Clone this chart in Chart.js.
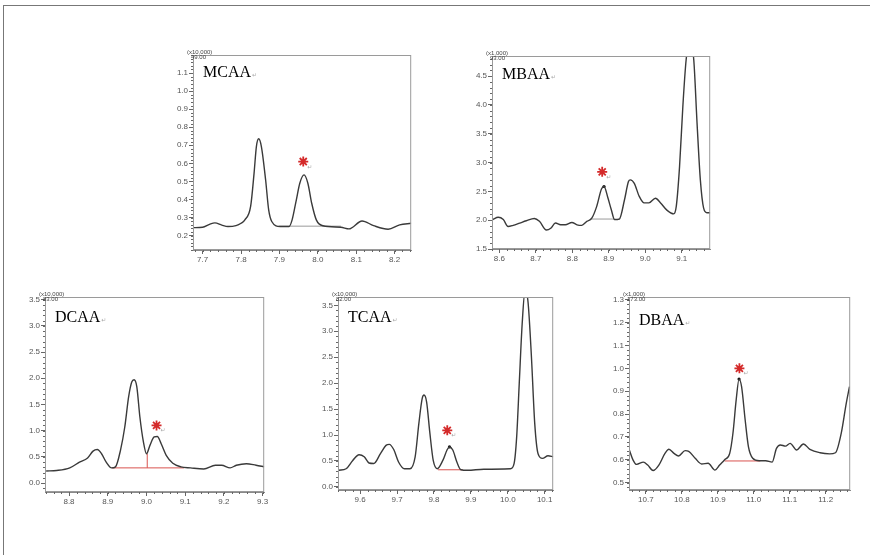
<!DOCTYPE html>
<html>
<head>
<meta charset="utf-8">
<script src="https://cdn.jsdelivr.net/npm/chart.js@4"></script>
<style>
body { margin: 0; background: #fff; }
#page { position: relative; width: 870px; height: 555px; overflow: hidden; }
#frame { position: absolute; left: 3px; top: 5px; width: 880px; height: 560px; border-top: 1px solid #777; border-left: 1px solid #777; }
.panel { position: absolute; }
</style>
</head>
<body>
<div id="page">
  <div id="frame"></div>
  <div class="panel" id="p1"><canvas id="c1"></canvas></div>
  <div class="panel" id="p2"><canvas id="c2"></canvas></div>
  <div class="panel" id="p3"><canvas id="c3"></canvas></div>
  <div class="panel" id="p4"><canvas id="c4"></canvas></div>
  <div class="panel" id="p5"><canvas id="c5"></canvas></div>
</div>
<script>
// MCAA
var mcaaTime = [7.676, 7.70, 7.718, 7.732, 7.75, 7.766, 7.787, 7.80, 7.81, 7.825, 7.834, 7.84, 7.846, 7.853, 7.864, 7.872, 7.88, 7.902, 7.925, 7.933, 7.944, 7.953, 7.964, 7.974, 7.984, 7.996, 8.013, 8.06, 8.081, 8.115, 8.145, 8.183, 8.213, 8.243];
var mcaaInt = [0.244, 0.246, 0.262, 0.27, 0.258, 0.25, 0.255, 0.268, 0.287, 0.361, 0.546, 0.693, 0.736, 0.693, 0.509, 0.342, 0.278, 0.25, 0.25, 0.287, 0.398, 0.49, 0.536, 0.49, 0.379, 0.287, 0.254, 0.246, 0.237, 0.281, 0.255, 0.235, 0.259, 0.268];
var mcaaXTicks = [7.7, 7.8, 7.9, 8.0, 8.1, 8.2];
var mcaaYTicks = [0.2, 0.3, 0.4, 0.5, 0.6, 0.7, 0.8, 0.9, 1.0, 1.1];
var mcaaBase = [[7.898, 0.252], [8.06, 0.252]];
var mcaaStar = [7.962, 0.61];

// MBAA
var mbaaTime = [8.582, 8.597, 8.611, 8.624, 8.638, 8.656, 8.674, 8.696, 8.71, 8.729, 8.741, 8.754, 8.768, 8.781, 8.799, 8.813, 8.826, 8.84, 8.853, 8.867, 8.88, 8.887, 8.898, 8.907, 8.916, 8.929, 8.943, 8.954, 8.959, 8.97, 8.983, 8.997, 9.01, 9.028, 9.042, 9.06, 9.078, 9.085, 9.094, 9.103, 9.112, 9.122, 9.133, 9.142, 9.151, 9.16, 9.169, 9.178];
var mbaaInt = [2.01, 2.05, 2.01, 1.89, 1.91, 1.95, 1.99, 2.03, 1.98, 1.83, 1.86, 1.95, 1.92, 1.92, 1.96, 1.92, 1.91, 1.98, 2.03, 2.24, 2.54, 2.585, 2.38, 2.18, 2.01, 2.02, 2.35, 2.67, 2.70, 2.64, 2.42, 2.30, 2.30, 2.38, 2.30, 2.17, 2.11, 2.24, 2.93, 3.97, 4.78, 5.15, 4.78, 3.68, 2.70, 2.21, 2.13, 2.13];
var mbaaXTicks = [8.6, 8.7, 8.8, 8.9, 9.0, 9.1];
var mbaaYTicks = [1.5, 2.0, 2.5, 3.0, 3.5, 4.0, 4.5];
var mbaaBase = [[8.849, 2.02], [8.929, 2.02]];
var mbaaApex = [8.887, 2.585];
var mbaaStar = [8.882, 2.84];

// DCAA
var dcaaTime = [8.741, 8.768, 8.802, 8.827, 8.848, 8.862, 8.873, 8.884, 8.896, 8.91, 8.92, 8.933, 8.944, 8.954, 8.962, 8.968, 8.975, 8.983, 8.992, 9.0, 9.009, 9.02, 9.028, 9.038, 9.051, 9.068, 9.089, 9.114, 9.148, 9.178, 9.194, 9.216, 9.232, 9.258, 9.283, 9.304];
var dcaaInt = [0.23, 0.24, 0.29, 0.40, 0.48, 0.61, 0.64, 0.56, 0.40, 0.29, 0.31, 0.63, 1.07, 1.65, 1.93, 1.97, 1.84, 1.26, 0.79, 0.56, 0.72, 0.88, 0.89, 0.75, 0.53, 0.38, 0.31, 0.29, 0.27, 0.34, 0.34, 0.29, 0.34, 0.37, 0.34, 0.31];
var dcaaXTicks = [8.8, 8.9, 9.0, 9.1, 9.2, 9.3];
var dcaaYTicks = [0.0, 0.5, 1.0, 1.5, 2.0, 2.5, 3.0, 3.5];
var dcaaBase = [[8.911, 0.29], [9.097, 0.29]];
var dcaaDrop = [[9.002, 0.29], [9.002, 0.56]];
var dcaaStar = [9.026, 1.10];

// TCAA
var tcaaTime = [9.542, 9.562, 9.58, 9.597, 9.611, 9.624, 9.637, 9.655, 9.67, 9.679, 9.691, 9.704, 9.72, 9.735, 9.749, 9.759, 9.768, 9.773, 9.78, 9.789, 9.798, 9.809, 9.824, 9.836, 9.842, 9.851, 9.862, 9.873, 9.891, 9.935, 10.007, 10.017, 10.024, 10.031, 10.039, 10.047, 10.055, 10.064, 10.073, 10.082, 10.094, 10.109, 10.123];
var tcaaInt = [0.32, 0.35, 0.51, 0.62, 0.58, 0.46, 0.45, 0.64, 0.80, 0.82, 0.72, 0.48, 0.35, 0.35, 0.58, 1.22, 1.70, 1.77, 1.64, 1.03, 0.51, 0.35, 0.51, 0.72, 0.77, 0.71, 0.48, 0.33, 0.32, 0.34, 0.35, 0.45, 0.96, 1.99, 3.15, 3.80, 3.55, 2.51, 1.22, 0.64, 0.55, 0.60, 0.58];
var tcaaXTicks = [9.6, 9.7, 9.8, 9.9, 10.0, 10.1];
var tcaaYTicks = [0.0, 0.5, 1.0, 1.5, 2.0, 2.5, 3.0, 3.5];
var tcaaBase = [[9.811, 0.33], [9.878, 0.33]];
var tcaaApex = [9.842, 0.77];
var tcaaStar = [9.836, 1.09];

// DBAA
var dbaaTime = [10.654, 10.664, 10.674, 10.693, 10.705, 10.72, 10.736, 10.753, 10.764, 10.778, 10.791, 10.809, 10.819, 10.837, 10.855, 10.873, 10.892, 10.905, 10.919, 10.933, 10.942, 10.951, 10.959, 10.966, 10.976, 10.985, 10.997, 11.015, 11.033, 11.051, 11.063, 11.074, 11.088, 11.101, 11.119, 11.138, 11.156, 11.184, 11.211, 11.227, 11.243, 11.257, 11.266];
var dbaaInt = [0.643, 0.60, 0.58, 0.59, 0.577, 0.553, 0.577, 0.628, 0.646, 0.628, 0.617, 0.64, 0.637, 0.607, 0.582, 0.585, 0.555, 0.577, 0.60, 0.628, 0.716, 0.862, 0.953, 0.92, 0.774, 0.658, 0.607, 0.596, 0.596, 0.59, 0.65, 0.665, 0.66, 0.672, 0.643, 0.669, 0.646, 0.631, 0.626, 0.631, 0.716, 0.847, 0.92];
var dbaaXTicks = [10.7, 10.8, 10.9, 11.0, 11.1, 11.2];
var dbaaYTicks = [0.5, 0.6, 0.7, 0.8, 0.9, 1.0, 1.1, 1.2, 1.3];
var dbaaBase = [[10.919, 0.595], [11.018, 0.595]];
var dbaaApex = [10.959, 0.953];
var dbaaStar = [10.96, 1.0];

function pts(xs, ys) {
    return xs.map(function(x, i) { return { x: x, y: ys[i] }; });
}
function pairs(p) {
    return p.map(function(e) { return { x: e[0], y: e[1] }; });
}

var deco = {
    id: 'deco',
    afterDraw: function(chart, args, o) {
        var ctx = chart.ctx, a = chart.chartArea;
        ctx.save();
        ctx.strokeStyle = '#9a9a9a';
        ctx.lineWidth = 1;
        ctx.strokeRect(a.left + 0.5, a.top + 0.5, a.right - a.left - 1, a.bottom - a.top - 1);
        // minor ticks
        ctx.strokeStyle = '#666';
        ['x', 'y'].forEach(function(id) {
            var s = chart.scales[id];
            var step = (s.ticks[1].value - s.ticks[0].value) / 5;
            var k = Math.ceil(s.min / step - 1e-6);
            for (; k * step <= s.max + 1e-9; k++) {
                var p = Math.round(s.getPixelForValue(k * step)) + 0.5;
                ctx.beginPath();
                if (id == 'x') { ctx.moveTo(p, a.bottom); ctx.lineTo(p, a.bottom + 2); }
                else { ctx.moveTo(a.left - 2, p); ctx.lineTo(a.left, p); }
                ctx.stroke();
            }
        });
        // header + title
        ctx.fillStyle = '#444';
        ctx.font = '6px "Liberation Sans"';
        ctx.textBaseline = 'alphabetic';
        ctx.fillText(o.mult, a.left - 6, a.top - 1.5);
        ctx.fillText(o.num, a.left - 2, a.top + 4);
        ctx.fillStyle = '#000';
        ctx.font = '16px "Liberation Serif"';
        ctx.fillText(o.title, a.left + 10, a.top + o.dy);
        var w = ctx.measureText(o.title).width;
        ctx.fillStyle = '#aaa';
        ctx.font = '6px "DejaVu Sans"';
        ctx.fillText('\u21b5', a.left + 11 + w, a.top + o.dy);
        var sx = chart.scales.x.getPixelForValue(o.star[0]);
        var sy = chart.scales.y.getPixelForValue(o.star[1]);
        ctx.fillText('\u21b5', sx + 4, sy + 7);
        ctx.restore();
    }
};

function makePanel(n, box, d) {
    var wrap = document.getElementById('p' + n);
    var cv = document.getElementById('c' + n);
    var w = box[2] - box[0] + 33, h = box[3] - box[1] + 32;
    wrap.style.left = (box[0] - 30) + 'px';
    wrap.style.top = (box[1] - 14) + 'px';
    cv.width = w; cv.height = h;
    cv.style.width = w + 'px'; cv.style.height = h + 'px';

    var sets = [{
        data: pts(d.time, d.int),
        borderColor: '#3a3a3a',
        borderWidth: 1.4,
        pointRadius: 0,
        cubicInterpolationMode: 'monotone'
    }, {
        data: pairs(d.base),
        borderColor: d.baseColor,
        borderWidth: 1,
        pointRadius: 0
    }];
    if (d.drop) {
        sets.push({ data: pairs(d.drop), borderColor: d.baseColor, borderWidth: 1, pointRadius: 0 });
    }
    if (d.apex) {
        sets.push({ data: pairs([d.apex]), showLine: false, pointRadius: 1.6, pointBackgroundColor: '#111', pointBorderWidth: 0 });
    }
    sets.push({
        data: pairs([d.star]),
        showLine: false,
        pointStyle: 'star',
        pointRadius: 5,
        pointBorderColor: '#d42a2a',
        pointBorderWidth: 1.8
    });

    var tickFont = { family: 'Liberation Sans', size: 8 };
    return new Chart(cv, {
        type: 'line',
        data: { datasets: sets },
        options: {
            responsive: false,
            animation: false,
            layout: { padding: { top: 14, right: 3, left: 0, bottom: 0 } },
            plugins: {
                legend: { display: false },
                tooltip: { enabled: false },
                deco: { title: d.title, mult: d.mult, num: d.num, dy: d.dy, star: d.star }
            },
            scales: {
                x: {
                    type: 'linear',
                    min: d.xr[0], max: d.xr[1],
                    afterBuildTicks: function(s) { s.ticks = d.xt.map(function(v) { return { value: v }; }); },
                    afterFit: function(s) { s.height = 18; },
                    grid: { drawOnChartArea: false, tickLength: 4, color: '#666' },
                    border: { color: '#888' },
                    ticks: { font: tickFont, color: '#555', padding: 1, maxRotation: 0,
                        callback: function(v) { return v.toFixed(1); } }
                },
                y: {
                    min: d.yr[0], max: d.yr[1],
                    afterBuildTicks: function(s) { s.ticks = d.yt.map(function(v) { return { value: v }; }); },
                    afterFit: function(s) { s.width = 30; },
                    grid: { drawOnChartArea: false, tickLength: 4, color: '#666' },
                    border: { color: '#888' },
                    ticks: { font: tickFont, color: '#555', padding: 1,
                        callback: function(v) { return v.toFixed(1); } }
                }
            }
        },
        plugins: [deco]
    });
}

var chart1 = makePanel(1, [193, 55, 415, 250], {
    time: mcaaTime, int: mcaaInt, xt: mcaaXTicks, yt: mcaaYTicks, xr: [7.675, 8.243], yr: [0.12, 1.2],
    base: mcaaBase, baseColor: '#9a9a9a', star: mcaaStar,
    title: 'MCAA', mult: '(x10,000)', num: '49.00', dy: 22
});
var chart2 = makePanel(2, [492, 56, 714, 249], {
    time: mbaaTime, int: mbaaInt, xt: mbaaXTicks, yt: mbaaYTicks, xr: [8.58, 9.178], yr: [1.5, 4.85],
    base: mbaaBase, baseColor: '#9a9a9a', apex: mbaaApex, star: mbaaStar,
    title: 'MBAA', mult: '(x1,000)', num: '93.00', dy: 23
});
var chart3 = makePanel(3, [45, 297, 268, 492], {
    time: dcaaTime, int: dcaaInt, xt: dcaaXTicks, yt: dcaaYTicks, xr: [8.738, 9.304], yr: [-0.17, 3.55],
    base: dcaaBase, drop: dcaaDrop, baseColor: '#d9534f', star: dcaaStar,
    title: 'DCAA', mult: '(x10,000)', num: '83.00', dy: 25
});
var chart4 = makePanel(4, [338, 297, 557, 490], {
    time: tcaaTime, int: tcaaInt, xt: tcaaXTicks, yt: tcaaYTicks, xr: [9.54, 10.123], yr: [-0.06, 3.66],
    base: tcaaBase, baseColor: '#d9534f', apex: tcaaApex, star: tcaaStar,
    title: 'TCAA', mult: '(x10,000)', num: '82.00', dy: 25
});
var chart5 = makePanel(5, [629, 297, 854, 490], {
    time: dbaaTime, int: dbaaInt, xt: dbaaXTicks, yt: dbaaYTicks, xr: [10.653, 11.268], yr: [0.468, 1.312],
    base: dbaaBase, baseColor: '#d9534f', apex: dbaaApex, star: dbaaStar,
    title: 'DBAA', mult: '(x1,000)', num: '173.00', dy: 28
});
</script>
</body>
</html>
